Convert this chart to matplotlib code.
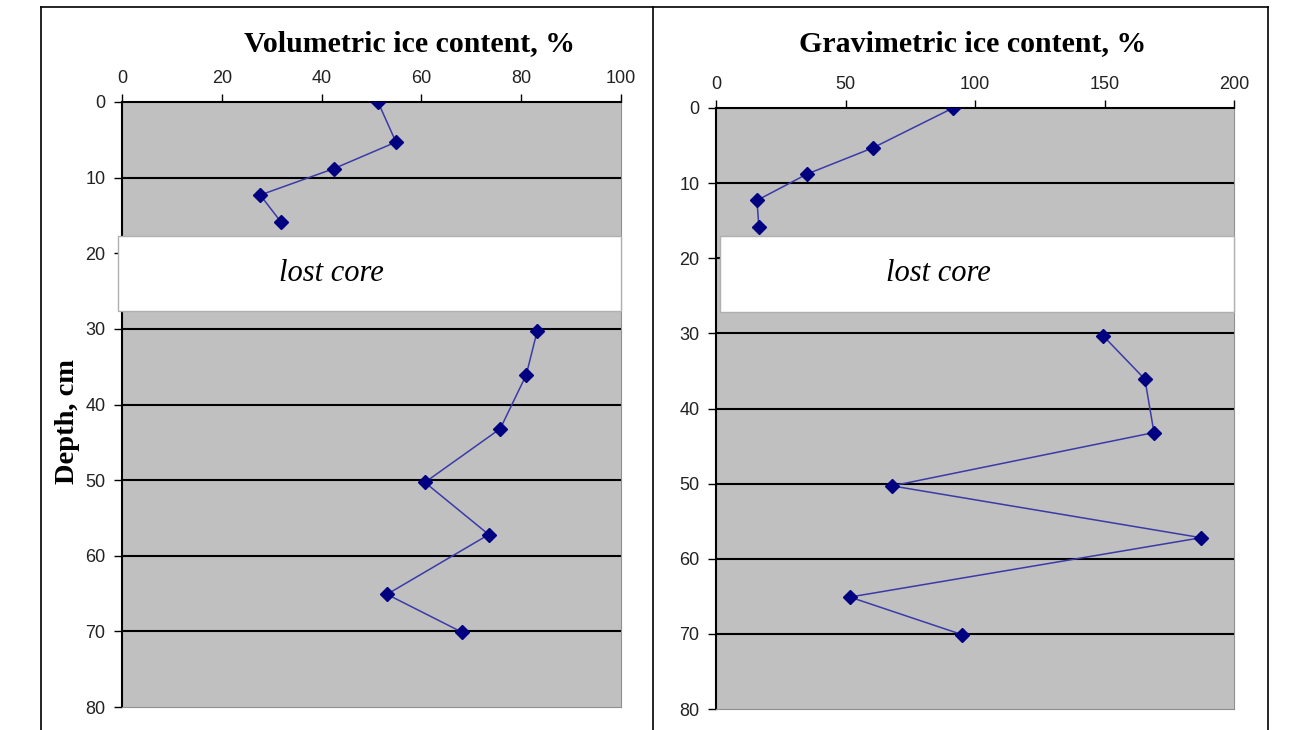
import numpy as np
import matplotlib.pyplot as plt
from matplotlib.patches import Rectangle
from matplotlib.lines import Line2D
import matplotlib.transforms as mtransforms

# depth of each sample, cm
depth = [0, 5.3, 8.8, 12.3, 15.9, 30.3, 36.1, 43.2, 50.3, 57.2, 65.1, 70.1]
# volumetric ice content, %
vol_ice = [51.3, 54.9, 42.5, 27.7, 31.9, 83.2, 81.0, 75.8, 60.7, 73.5, 53.1, 68.1]
# gravimetric ice content, %
grav_ice = [91.5, 60.6, 35.1, 15.8, 16.6, 149.4, 165.6, 169.1, 68.0, 187.3, 51.7, 95.0]

# depth interval with no core (as drawn on each chart)
lost_core_vol = (17.7, 27.6)
lost_core_grav = (17.0, 27.1)
depth_ticks = np.arange(0, 81, 10)

serif = ['Liberation Serif', 'DejaVu Serif']
sans = ['Liberation Sans', 'DejaVu Sans']

fig = plt.figure(figsize=(12.92, 7.30), dpi=100)

# outer frame lines like the pasted excel charts
for x in [41/1292, 653/1292, 1268/1292]:
    fig.add_artist(Line2D([x, x], [0, 1 - 7/730], color='black', lw=1.2))
fig.add_artist(Line2D([41/1292, 1268/1292], [1 - 7/730, 1 - 7/730], color='black', lw=1.2))

ax1 = fig.add_axes([122/1292, 23/730, 499/1292, 605/730])
ax2 = fig.add_axes([716/1292, 21/730, 518/1292, 601/730])

def style(ax, xs, xmax, xticks, lost, text_x, box_x0):
    ax.set_facecolor('#c0c0c0')
    d = np.array(depth)
    v = np.array(xs)
    for m in [d < lost[0], d > lost[1]]:
        ax.plot(v[m], d[m], color='#3a3aa8', lw=1.1, marker='D', ms=7,
                mfc='#000080', mec='#000080', zorder=3)
    ax.set_xlim(0, xmax)
    ax.set_ylim(80, 0)
    ax.set_xticks(xticks)
    ax.set_yticks(depth_ticks)
    ax.xaxis.tick_top()
    ax.tick_params(axis='both', direction='out', length=6, width=1,
                   labelsize=13, labelcolor='#222222', pad=6)
    ax.tick_params(axis='x', pad=5)
    for lab in ax.get_xticklabels() + ax.get_yticklabels():
        lab.set_family(sans)
    for y in depth_ticks[1:-1]:
        ax.axhline(y, color='black', lw=1.5, zorder=1)
    ax.spines['left'].set_color('black')
    ax.spines['top'].set_color('black')
    ax.spines['left'].set_linewidth(1.5)
    ax.spines['top'].set_linewidth(1.5)
    ax.spines['right'].set_color('#909090')
    ax.spines['bottom'].set_color('#909090')
    trans = mtransforms.blended_transform_factory(ax.transAxes, ax.transData)
    ax.add_patch(Rectangle((box_x0, lost[0]), 1 - box_x0, lost[1] - lost[0],
                           transform=trans, facecolor='white', edgecolor='#b0b0b0',
                           lw=1, clip_on=False, zorder=4))
    ax.text(text_x, sum(lost) / 2, 'lost core', family=serif, style='italic',
            fontsize=22, ha='center', va='center', zorder=5)

style(ax1, vol_ice, 100, np.arange(0, 101, 20), lost_core_vol, 42, -0.008)
style(ax2, grav_ice, 200, np.arange(0, 201, 50), lost_core_grav, 86, 0.008)

fig.text(410/1292, 1 - 44/730, 'Volumetric ice content, %', family=serif,
         fontweight='bold', fontsize=21.5, ha='center', va='center')
fig.text(973/1292, 1 - 44/730, 'Gravimetric ice content, %', family=serif,
         fontweight='bold', fontsize=21.5, ha='center', va='center')
fig.text(68/1292, 1 - 422/730, 'Depth, cm', rotation=90, family=serif,
         fontweight='bold', fontsize=20.5, ha='center', va='center')

plt.savefig('out.png', dpi=100)
